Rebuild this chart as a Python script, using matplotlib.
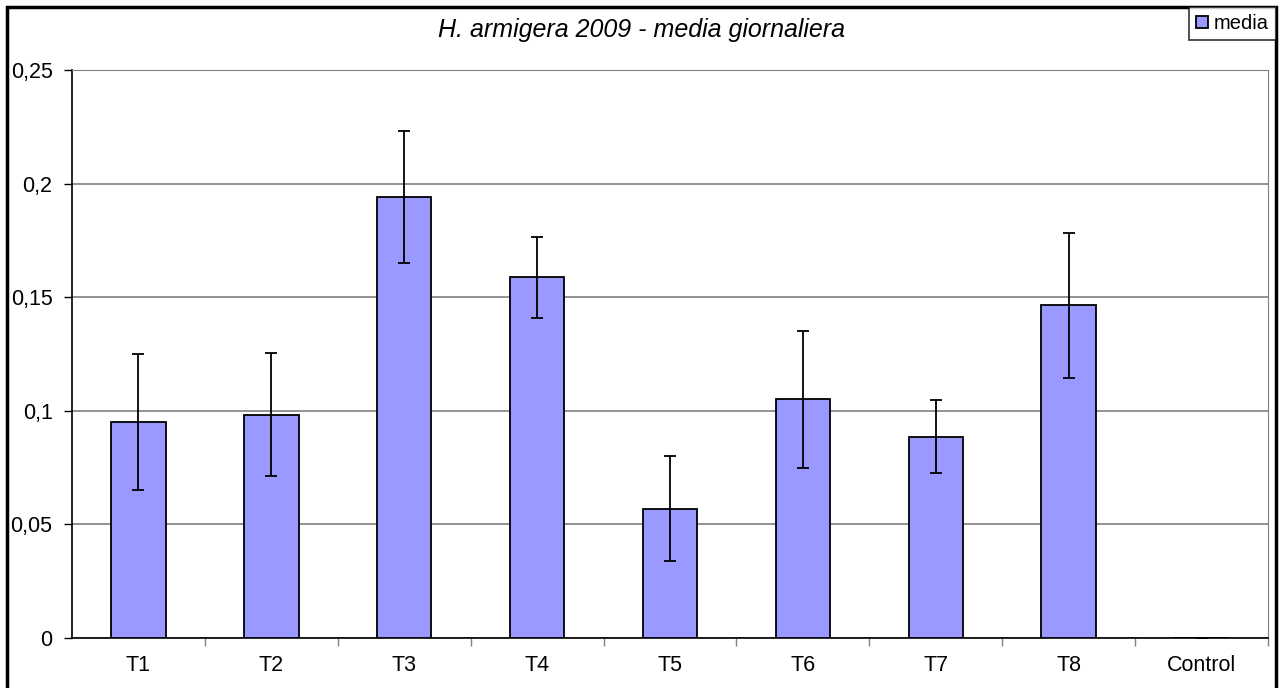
import matplotlib.pyplot as plt
from matplotlib.patches import Rectangle

categories = ['T1', 'T2', 'T3', 'T4', 'T5', 'T6', 'T7', 'T8', 'Control']
media = [0.0952, 0.0983, 0.194, 0.1587, 0.0569, 0.105, 0.0886, 0.1464, 0.0]
errors = [0.030, 0.027, 0.029, 0.018, 0.023, 0.030, 0.016, 0.032, 0.0]
yticks = [0, 0.05, 0.1, 0.15, 0.2, 0.25]
ytick_labels = ['0', '0,05', '0,1', '0,15', '0,2', '0,25']

plt.rcParams['font.family'] = ['Liberation Sans', 'DejaVu Sans']

fig = plt.figure(figsize=(12.82, 6.88), dpi=100)
ax = fig.add_axes([72 / 1282, 50 / 688, (1268 - 72) / 1282, (638 - 70) / 688])

x = list(range(len(categories)))
bars = ax.bar(x, media, 0.41, color='#9999ff', edgecolor='black', linewidth=1.3,
              label='media', zorder=3)
ax.errorbar(x, media, yerr=errors, fmt='none', ecolor='black', elinewidth=1.3,
            capsize=4.5, capthick=1.3, zorder=4)

ax.set_xlim(-0.5, len(categories) - 0.5)
ax.set_ylim(0, 0.25)
ax.set_yticks(yticks)
ax.set_yticklabels(ytick_labels, fontsize=15.5)
ax.set_xticks(x)
ax.set_xticklabels(categories, fontsize=15.5)
ax.tick_params(axis='x', length=0, pad=12)
ax.tick_params(axis='y', length=6, width=1, pad=8)
ax.set_xticks([i + 0.5 for i in x], minor=True)
ax.tick_params(axis='x', which='minor', length=6, width=1, color='#808080')

ax.yaxis.grid(True, color='#808080', linewidth=1.2, zorder=0)
ax.spines['left'].set_color('black')
ax.spines['bottom'].set_color('black')
ax.spines['top'].set_color('#808080')
ax.spines['right'].set_color('#808080')
ax.spines['left'].set_linewidth(1.2)
ax.spines['bottom'].set_linewidth(1.2)

fig.text(641 / 1282, 1 - 30 / 688, 'H. armigera 2009 - media giornaliera', ha='center',
         va='center', fontsize=18, style='italic')

leg = fig.legend(handles=[bars], labels=['media'], loc='upper right',
                 bbox_to_anchor=(1276 / 1282, 1 - 7 / 688), fontsize=14.5,
                 frameon=True, fancybox=False, edgecolor='black', handlelength=0.6,
                 handleheight=0.6, handletextpad=0.3, borderpad=0.35, borderaxespad=0)
leg.get_frame().set_linewidth(1.2)

fig.patches.append(Rectangle((6.5 / 1282, -0.01), (1276 - 6.5) / 1282, 1.01 - 6.5 / 688,
                             transform=fig.transFigure, fill=False, edgecolor='black',
                             linewidth=2.5))

fig.savefig('out.png', dpi=100)
